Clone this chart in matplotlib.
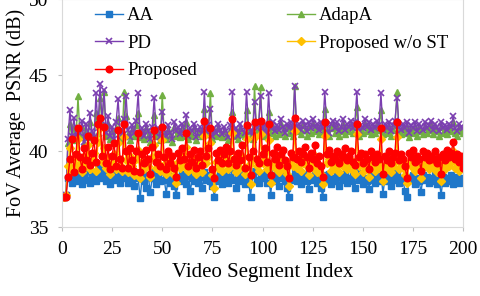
import numpy as np
import matplotlib.pyplot as plt

plt.rcParams['font.family'] = 'Liberation Serif'

# FoV average PSNR (dB) per video segment
aa = [
    37.0, 37.1, 38.2, 38.6, 37.9, 38.4, 38.0, 38.7, 38.2, 37.8, 38.5, 38.1, 38.8, 37.9, 38.3, 38.6, 38.0, 38.4, 38.9, 38.2,
    38.6, 38.0, 38.4, 37.8, 38.3, 38.7, 38.1, 38.5, 37.9, 38.2, 38.8, 38.3, 37.9, 38.4, 38.1, 37.7, 38.5, 38.2, 36.9, 38.3,
    38.0, 37.6, 38.4, 37.3, 38.2, 38.6, 37.8, 38.3, 38.0, 38.7, 38.1, 37.2, 38.4, 37.9, 38.2, 37.7, 37.1, 38.3, 38.0, 38.5,
    38.1, 37.8, 38.4, 37.4, 38.2, 38.0, 38.5, 37.9, 38.3, 37.6, 38.6, 38.1, 38.4, 38.0, 37.7, 37.0, 38.3, 38.0, 38.5, 37.8,
    38.2, 38.6, 37.9, 38.3, 38.8, 38.1, 37.6, 38.4, 38.0, 38.5, 37.8, 38.3, 38.0, 37.0, 38.4, 38.7, 38.1, 37.9, 38.5, 38.2,
    38.4, 37.9, 38.6, 37.1, 38.3, 38.0, 38.5, 37.7, 38.2, 38.4, 38.0, 37.6, 37.0, 38.3, 38.1, 38.7, 38.0, 38.4, 37.8, 38.2,
    38.5, 38.0, 37.5, 38.3, 38.1, 38.6, 37.9, 38.2, 37.6, 37.0, 38.4, 38.1, 38.5, 37.8, 38.2, 38.0, 38.4, 37.7, 38.3, 38.1,
    38.5, 37.9, 38.2, 38.0, 38.4, 37.6, 38.6, 38.1, 38.3, 37.8, 38.2, 38.0, 37.5, 38.4, 38.1, 37.9, 38.3, 38.0, 38.6, 37.2,
    38.2, 38.0, 38.4, 37.7, 38.1, 38.3, 38.7, 37.9, 38.2, 38.0, 37.4, 37.0, 38.3, 38.1, 38.4, 37.8, 38.2, 38.0, 37.3, 38.4,
    38.1, 38.3, 37.9, 38.2, 38.0, 38.4, 37.8, 38.1, 37.1, 38.3, 37.9, 38.2, 38.0, 38.4, 37.8, 38.1, 38.3, 37.9, 38.2, 38.0,
]
adapa = [
    37.0, 37.1, 40.5, 41.8, 40.8, 41.5, 40.7, 43.6, 41.0, 41.6, 40.5, 41.3, 40.9, 41.9, 41.1, 40.7, 42.5, 41.2, 43.5, 41.7,
    43.9, 41.0, 41.8, 40.8, 41.3, 40.6, 41.5, 42.2, 41.0, 40.8, 43.9, 42.3, 41.1, 40.7, 41.4, 41.0, 41.7, 42.5, 40.9, 41.2,
    40.8, 41.5, 41.0, 40.6, 41.3, 42.4, 41.0, 41.2, 40.7, 43.7, 41.1, 40.8, 41.4, 41.0, 40.6, 41.6, 41.0, 41.3, 40.9, 41.5,
    41.0, 41.9, 40.8, 41.2, 41.0, 41.5, 40.7, 41.1, 41.3, 41.0, 42.8, 41.1, 41.4, 43.8, 40.8, 41.2, 41.0, 41.5, 41.1, 40.9,
    41.3, 41.0, 40.7, 41.4, 42.6, 41.0, 41.2, 40.8, 41.5, 41.1, 41.0, 42.7, 41.3, 41.0, 40.8, 44.3, 41.2, 41.4, 44.2, 41.0,
    41.5, 41.0, 42.6, 41.2, 41.6, 41.0, 41.4, 41.1, 41.8, 41.3, 41.0, 41.5, 41.2, 41.6, 41.0, 44.3, 41.3, 41.5, 41.1, 41.7,
    41.4, 41.0, 41.6, 41.2, 41.8, 41.3, 41.5, 41.1, 41.6, 41.2, 42.8, 41.4, 41.0, 41.5, 41.7, 41.2, 41.6, 41.0, 41.3, 41.8,
    41.1, 41.5, 41.3, 41.7, 41.2, 41.6, 42.9, 41.0, 41.4, 41.2, 41.8, 41.3, 41.6, 41.1, 41.5, 41.2, 41.7, 41.4, 42.7, 41.1,
    41.5, 41.2, 41.6, 41.0, 41.4, 41.7, 43.9, 41.3, 41.1, 41.5, 41.2, 41.6, 40.9, 41.4, 41.2, 41.6, 41.0, 41.5, 41.3, 41.1,
    41.6, 41.2, 41.4, 41.7, 41.1, 41.5, 41.3, 41.0, 41.6, 41.2, 41.4, 41.1, 41.5, 41.3, 41.9, 41.2, 41.0, 41.5, 41.3, 41.2,
]
pd_ = [
    37.0, 37.1, 40.8, 42.7, 41.0, 42.2, 40.9, 41.5, 41.2, 42.0, 40.6, 41.8, 41.0, 42.5, 41.3, 40.9, 43.8, 41.5, 44.4, 42.0,
    44.0, 41.2, 42.3, 41.0, 41.6, 40.8, 41.9, 43.4, 41.3, 41.0, 42.1, 43.6, 41.4, 40.9, 41.7, 41.2, 42.0, 43.8, 41.1, 41.5,
    41.0, 41.8, 41.3, 40.8, 41.6, 43.5, 41.2, 41.5, 40.9, 42.6, 41.4, 41.0, 41.7, 41.2, 40.8, 41.9, 41.3, 41.6, 41.1, 41.8,
    41.2, 42.4, 41.0, 41.5, 41.3, 41.8, 40.9, 41.4, 41.6, 41.2, 43.9, 41.3, 41.7, 42.8, 41.0, 41.5, 41.2, 41.8, 41.4, 41.1,
    41.6, 41.3, 40.9, 41.7, 43.9, 41.2, 41.5, 41.0, 41.8, 41.4, 41.2, 43.9, 41.6, 41.3, 41.0, 43.2, 41.5, 41.7, 43.6, 41.3,
    41.8, 41.2, 43.8, 41.5, 41.9, 41.3, 41.7, 41.4, 42.1, 41.6, 41.2, 41.8, 41.5, 41.9, 41.3, 44.3, 41.6, 41.8, 41.4, 42.0,
    41.7, 41.3, 41.9, 41.5, 42.1, 41.6, 41.8, 41.4, 41.9, 41.5, 43.9, 41.7, 41.2, 41.8, 42.0, 41.5, 41.9, 41.3, 41.6, 42.1,
    41.4, 41.8, 41.6, 42.0, 41.5, 41.9, 43.9, 41.3, 41.7, 41.5, 42.1, 41.6, 41.9, 41.4, 41.8, 41.5, 42.0, 41.7, 43.8, 41.4,
    41.8, 41.5, 41.9, 41.3, 41.7, 42.0, 43.5, 41.6, 41.4, 41.8, 41.5, 41.9, 41.2, 41.7, 41.5, 41.9, 41.3, 41.8, 41.6, 41.4,
    41.9, 41.5, 41.7, 42.0, 41.4, 41.8, 41.6, 41.3, 41.9, 41.5, 41.7, 41.4, 41.8, 41.6, 42.3, 41.5, 41.3, 41.8, 41.6, 41.5,
]
proposed_wo_st = [
    37.0, 37.1, 39.0, 40.2, 38.7, 39.5, 38.9, 40.8, 39.2, 38.6, 39.7, 39.0, 40.4, 38.8, 39.4, 39.9, 38.7, 40.6, 41.5, 39.3,
    40.2, 38.9, 39.6, 38.5, 39.2, 39.8, 38.8, 40.5, 39.1, 38.7, 40.9, 39.4, 38.6, 39.7, 39.0, 38.4, 39.5, 40.1, 38.2, 39.3,
    38.8, 39.4, 39.0, 38.3, 39.6, 40.4, 38.9, 39.2, 38.7, 40.7, 39.1, 38.5, 39.5, 38.8, 39.2, 38.4, 37.9, 39.3, 38.9, 39.6,
    39.0, 40.3, 38.7, 39.3, 38.8, 39.5, 38.5, 39.1, 39.4, 38.6, 41.0, 39.2, 39.6, 40.5, 38.4, 37.6, 39.3, 38.9, 39.5, 38.7,
    39.2, 39.6, 38.8, 39.4, 41.2, 39.0, 38.6, 39.3, 38.9, 39.7, 38.5, 40.8, 39.1, 37.8, 39.4, 40.9, 39.0, 38.7, 41.1, 39.2,
    39.5, 38.8, 40.7, 37.9, 39.3, 38.9, 39.6, 38.6, 39.2, 39.5, 38.8, 38.5, 37.7, 39.3, 39.0, 41.3, 38.9, 39.4, 38.7, 39.2,
    39.6, 39.0, 38.4, 39.3, 38.9, 39.7, 38.6, 39.1, 38.5, 37.8, 41.0, 39.2, 39.5, 38.7, 39.1, 38.9, 39.4, 38.6, 39.2, 39.0,
    39.5, 38.8, 39.1, 39.4, 38.7, 38.5, 41.1, 39.0, 39.3, 38.6, 39.2, 38.9, 38.3, 39.4, 39.0, 38.7, 39.2, 38.9, 40.8, 38.0,
    39.1, 38.8, 39.4, 38.6, 39.0, 39.3, 40.9, 38.8, 39.2, 38.9, 38.4, 37.9, 39.3, 39.0, 39.5, 38.7, 39.1, 38.9, 38.2, 39.4,
    39.0, 39.3, 38.8, 39.1, 38.9, 39.4, 38.6, 39.0, 38.0, 39.2, 38.8, 39.5, 39.0, 39.3, 40.0, 38.9, 39.2, 38.7, 39.1, 39.0,
]
proposed = [
    37.0, 37.0, 38.3, 39.5, 40.8, 38.6, 39.8, 41.5, 39.6, 38.8, 40.2, 39.4, 41.0, 39.1, 39.9, 40.7, 39.3, 41.8, 42.2, 39.7,
    41.6, 39.2, 40.3, 38.8, 39.7, 40.5, 39.0, 41.4, 39.5, 38.9, 41.8, 40.0, 38.9, 40.2, 39.4, 38.7, 40.0, 41.2, 38.6, 39.8,
    39.2, 40.1, 39.5, 38.5, 40.3, 41.4, 39.3, 39.8, 39.0, 41.6, 39.6, 38.8, 40.0, 39.2, 39.7, 38.9, 38.3, 39.9, 39.4, 40.2,
    39.5, 41.2, 39.0, 39.8, 39.3, 40.1, 38.9, 39.6, 40.0, 39.1, 42.0, 39.7, 40.2, 41.5, 38.8, 38.2, 39.9, 39.4, 40.1, 39.2,
    39.8, 40.3, 39.2, 40.0, 42.1, 39.5, 39.1, 39.9, 39.4, 40.4, 38.9, 41.7, 39.6, 38.4, 40.0, 41.9, 39.5, 39.2, 42.0, 39.8,
    40.2, 39.3, 41.8, 38.4, 39.9, 39.5, 40.3, 39.1, 39.8, 40.1, 39.4, 39.0, 38.2, 39.9, 39.6, 42.2, 39.5, 40.0, 39.3, 39.8,
    40.3, 39.6, 38.9, 39.9, 39.5, 40.4, 39.2, 39.7, 39.0, 38.3, 41.9, 39.8, 40.1, 39.3, 39.7, 39.5, 40.0, 39.2, 39.8, 39.6,
    40.2, 39.4, 39.7, 40.0, 39.3, 39.1, 41.8, 39.6, 39.9, 39.2, 39.8, 39.5, 38.8, 40.0, 39.6, 39.3, 39.8, 39.5, 41.5, 38.5,
    39.7, 39.4, 40.0, 39.2, 39.6, 39.9, 41.9, 39.4, 39.8, 39.5, 39.0, 38.2, 39.9, 39.6, 40.1, 39.3, 39.7, 39.5, 38.7, 40.0,
    39.6, 39.9, 39.4, 39.7, 39.5, 40.0, 39.2, 39.6, 38.5, 39.8, 39.4, 40.1, 39.6, 39.9, 40.6, 39.5, 39.8, 39.3, 39.7, 38.9,
]

x_ticks = [0, 25, 50, 75, 100, 125, 150, 175, 200]
y_ticks = [35, 40, 45, 50]

fig = plt.figure(figsize=(4.8, 2.96), dpi=100)
ax = fig.add_axes([0.129, 0.233, 0.836, 0.77])

seg = np.arange(1, len(aa) + 1)
l_aa, = ax.plot(seg, aa, color='#1F77C9', marker='s', markersize=4.2, linewidth=1.0, label='AA')
l_ad, = ax.plot(seg, adapa, color='#72B043', marker='^', markersize=4.0, linewidth=1.0, label='AdapA')
l_pd, = ax.plot(seg, pd_, color='#7B3FB0', marker='x', markersize=4.0, markeredgewidth=1.2, linewidth=1.0, label='PD')
l_wo, = ax.plot(seg, proposed_wo_st, color='#FFC000', marker='D', markersize=3.6, linewidth=1.0, label='Proposed w/o ST')
l_pr, = ax.plot(seg, proposed, color='#FF0000', marker='o', markersize=4.8, linewidth=1.0, label='Proposed')

ax.set_xlim(0, 200)
ax.set_ylim(35, 50)
ax.set_xticks(x_ticks)
ax.set_yticks(y_ticks)
ax.tick_params(labelsize=14, length=3, color='#bfbfbf', pad=7)
for side in ['left', 'bottom', 'right', 'top']:
    ax.spines[side].set_color('#d9d9d9')
    ax.spines[side].set_linewidth(0.8)

ax.set_xlabel('Video Segment Index', fontsize=15, labelpad=4)
ax.set_ylabel('FoV Average  PSNR (dB)', fontsize=14.5, labelpad=2)

# legend filled column by column, so this order gives rows AA/AdapA, PD/w-o ST, Proposed
handles = [l_aa, l_pd, l_pr, l_ad, l_wo]
ax.legend(handles=handles, labels=[h.get_label() for h in handles], ncol=2,
          loc='upper left', bbox_to_anchor=(0.06, 1.005), frameon=False,
          fontsize=13.5, handlelength=1.5, handletextpad=0.2, columnspacing=4.8,
          labelspacing=0.55, borderaxespad=0.1)

fig.savefig('out.png', dpi=100)
